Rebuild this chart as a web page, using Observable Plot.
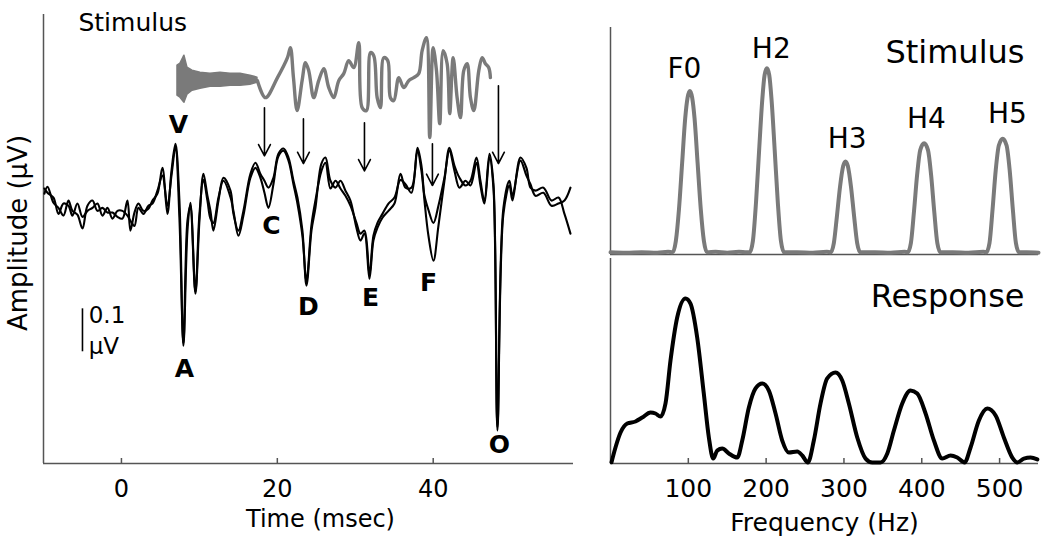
<!DOCTYPE html>
<html><head><meta charset="utf-8">
<script src="https://cdn.jsdelivr.net/npm/d3@7"></script>
<script src="https://cdn.jsdelivr.net/npm/@observablehq/plot@0.6"></script>
<style>
body{margin:0;background:#fff;}
#chart{position:relative;width:1050px;height:546px;overflow:hidden;background:#fff;}
#chart svg{position:absolute;overflow:visible;}
</style></head><body><div id="chart"></div>
<script>
// ---------- Left panel: time-domain waveforms ----------
const timeTicks = [0, 20, 40];
const respTime = [
 -9.88,-9.49,-8.72,-8.08,-7.44,-6.80,-6.29,-5.65,-5.00,-4.36,
 -3.72,-3.08,-2.44,-1.80,-1.15,-0.51,0.13,0.77,1.15,1.67,
 2.18,2.82,3.46,3.98,4.62,5.26,5.90,6.42,6.93,7.44,
 7.95,8.47,8.85,9.49,10.01,10.52,11.03,11.42,11.80,12.45,
 13.09,13.99,14.37,15.01,15.65,16.55,17.19,17.83,18.35,18.86,
 19.50,20.14,20.79,21.43,22.07,22.58,23.22,23.74,24.38,24.89,
 25.66,26.17,26.82,27.46,28.10,28.74,29.38,30.15,30.66,31.18,
 31.82,32.33,32.85,33.49,34.26,35.03,35.80,36.44,37.21,37.98,
 38.49,38.88,39.39,40.03,40.67,41.44,42.08,42.73,43.37,44.14,
 44.78,45.55,46.06,46.57,47.22,47.73,48.24,49.01,49.78,50.17,
 51.19,51.96,52.48,53.12,54.14,55.17,56.07,56.84,57.61];
const respA = [
 0.028,0.044,0.007,-0.005,-0.023,0.012,-0.012,-0.021,-0.053,0.000,
 0.012,-0.012,-0.005,-0.016,-0.016,-0.026,-0.030,0.012,-0.058,-0.016,
 0.005,-0.012,-0.007,0.012,0.028,0.088,-0.019,0.081,0.144,0.012,
 -0.326,-0.058,0.007,-0.205,-0.035,0.074,0.023,-0.012,-0.058,0.012,
 0.065,0.035,-0.019,-0.058,-0.012,0.074,0.100,0.074,0.058,0.042,
 0.065,0.121,0.133,0.112,0.058,0.019,-0.058,-0.186,-0.058,-0.005,
 0.098,0.112,0.058,0.042,0.058,0.035,0.012,-0.051,-0.081,-0.065,
 -0.170,-0.081,-0.051,-0.028,-0.012,0.005,0.074,0.042,0.042,0.135,
 0.093,0.012,-0.070,-0.128,-0.047,0.058,0.135,0.093,0.065,0.047,
 0.058,0.112,0.058,0.012,0.121,0.051,-0.523,-0.019,0.047,0.012,
 0.112,0.088,0.042,0.035,0.042,0.012,0.019,-0.019,-0.065];
const respB = [
 0.040,0.030,0.019,-0.019,0.005,0.000,-0.023,0.005,-0.026,-0.012,
 -0.005,0.005,-0.023,-0.005,-0.030,-0.012,-0.012,-0.023,-0.035,-0.047,
 -0.005,-0.019,0.000,0.005,0.035,0.070,0.000,0.070,0.135,-0.030,
 -0.320,-0.035,0.000,-0.200,-0.019,0.060,0.012,-0.030,-0.040,0.019,
 0.058,0.020,-0.012,-0.070,-0.023,0.065,0.088,0.065,0.030,-0.005,
 0.050,0.115,0.128,0.105,0.050,0.005,-0.070,-0.175,-0.045,0.012,
 0.081,0.100,0.040,0.058,0.040,0.023,0.000,-0.040,-0.065,-0.058,
 -0.160,-0.070,-0.040,-0.019,0.005,0.019,0.060,0.050,0.030,0.128,
 0.081,0.023,-0.010,-0.040,0.000,0.065,0.128,0.081,0.042,0.058,
 0.047,0.100,0.047,0.005,0.112,0.040,-0.515,-0.005,0.058,0.023,
 0.105,0.070,0.050,0.023,0.030,0.000,0.005,0.012,0.042];

// stimulus onset burst (envelope of the high-frequency part)
const burstTime = [7.19,7.57,8.08,8.47,9.11,10.14,11.42,12.70,13.99,15.27,16.55,17.45];
const burstTop  = [0.15,0.17,0.25,0.13,0.10,0.08,0.07,0.08,0.07,0.07,0.05,0.03];
const burstBot  = [-0.15,-0.17,-0.22,-0.14,-0.10,-0.08,-0.06,-0.06,-0.05,-0.05,-0.04,-0.02];
// stimulus waveform (arbitrary units)
const stimTime = [17.45,18.48,20.02,21.30,21.68,22.07,22.54,23.18,23.61,24.03,24.67,25.31,25.96,26.60,27.24,27.88,28.52,29.16,29.81,30.45,30.88,31.43,31.95,32.37,32.81,33.23,33.65,34.17,34.51,34.94,35.58,36.22,36.86,37.50,38.14,38.58,39.13,39.56,39.99,40.42,40.84,41.28,41.79,42.12,42.56,43.07,43.50,43.92,44.36,44.78,45.21,45.85,46.28,46.70,47.13,47.34];
const stimAmp  = [0.00,-0.17,0.03,0.23,0.33,0.03,-0.30,0.00,0.18,0.10,-0.17,0.00,0.12,-0.07,-0.17,0.00,0.07,0.20,0.13,0.38,-0.27,-0.30,0.28,0.25,-0.17,-0.27,0.23,0.20,-0.17,-0.20,0.03,-0.07,0.00,0.03,0.07,0.30,0.43,-0.57,0.33,0.10,-0.43,0.30,0.17,-0.33,0.23,-0.17,-0.37,0.10,0.17,-0.17,-0.30,0.10,0.23,0.17,0.13,0.03];
const stimOffset = 0.291, stimScale = 0.2327;

// arrows linking stimulus to response
const arrowTime   = [18.35, 23.35, 31.18, 39.90, 48.37];
const arrowTop    = [0.228, 0.202, 0.193, 0.144, 0.279];
const arrowBottom = [0.116, 0.098, 0.081, 0.047, 0.098];

// peak labels
const peakNames = ["V","A","C","D","E","F","O"];
const peakTime  = [7.31, 8.08, 19.25, 23.99, 31.95, 39.39, 48.50];
const peakAmp   = [0.188, -0.381, -0.047, -0.235, -0.214, -0.181, -0.558];

// scale bar
const scaleBarTime = -5.0;
const scaleBarRange = [-0.34, -0.24];

// ---------- Right panels: spectra ----------
const freqTicks = [100, 200, 300, 400, 500];
const stimFreq = [0,20,40,60,74,
 80,84,88,92,96,99,102,105,108,112,116,120,124,
 135,150,165,175,
 179,183,187,191,195,198,201,204,207,211,215,219,223,
 240,260,278,
 283,287,291,295,299,302,305,309,313,317,321,
 340,360,378,
 382,386,390,394,398,403,408,412,416,420,424,
 440,460,479,
 483,487,491,495,499,504,509,513,517,521,525,
 535,550];
const stimPower = [0.010,0.008,0.010,0.008,0.012,
 0.010,0.060,0.200,0.400,0.600,0.690,0.720,0.690,0.600,0.400,0.200,0.060,0.010,
 0.012,0.008,0.012,0.010,
 0.010,0.060,0.230,0.460,0.680,0.790,0.820,0.790,0.680,0.460,0.230,0.060,0.010,
 0.010,0.008,0.012,
 0.010,0.050,0.170,0.300,0.390,0.410,0.390,0.300,0.170,0.050,0.010,
 0.010,0.008,0.012,
 0.010,0.050,0.190,0.350,0.460,0.490,0.460,0.350,0.190,0.050,0.010,
 0.010,0.008,0.012,
 0.010,0.050,0.200,0.370,0.480,0.510,0.480,0.370,0.200,0.050,0.010,
 0.010,0.008];
const harmonicNames = ["F0","H2","H3","H4","H5"];
const harmonicFreq  = [95, 206.6, 304, 406, 510];
const harmonicLabelPower = [0.819, 0.907, 0.507, 0.595, 0.617];

const respFreq = [1.3,6.4,12.9,21.5,32.1,40.7,51.4,57.8,64.3,70.7,
 77.1,85.7,96.4,102.8,111.4,119.9,126.4,132.0,137.1,143.6,
 152.1,162.9,169.3,177.8,186.4,195.0,203.5,212.1,220.7,229.2,
 240.0,246.4,253.6,261.3,269.9,278.5,289.2,297.8,306.3,317.1,
 327.8,336.4,347.0,355.7,364.2,374.9,385.6,394.2,404.9,415.6,
 426.4,437.0,445.6,455.0,462.7,473.4,484.2,494.9,505.5,516.3,
 522.8,531.2,539.8,548.5];
const respPower = [0.006,0.078,0.151,0.195,0.205,0.224,0.249,0.244,0.229,0.293,
 0.502,0.712,0.805,0.780,0.615,0.341,0.127,0.024,0.063,0.073,
 0.049,0.029,0.112,0.273,0.366,0.390,0.356,0.244,0.112,0.054,
 0.059,0.039,0.005,0.112,0.293,0.415,0.444,0.405,0.293,0.127,
 0.024,0.005,0.005,0.049,0.161,0.293,0.356,0.341,0.244,0.112,
 0.024,0.039,0.029,0.005,0.078,0.210,0.268,0.234,0.127,0.029,
 0.005,0.024,0.029,0.020];

const panelTitles = ["Stimulus", "Response"];
const panelTitleFreq = 532;
const panelTitlePower = [0.89, 0.811];
const leftTitle = {text: "Stimulus", t: -5.52, amp: 0.426};

// ---------- build tables ----------
const response = respTime.map((t, i) => ({t, a: respA[i], b: respB[i]}));
const burst = burstTime.map((t, i) => ({t, hi: burstTop[i], lo: burstBot[i]}));
const stim = stimTime.map((t, i) => ({t, s: stimAmp[i]}));
const arrows = arrowTime.map((t, i) => ({t, top: arrowTop[i], bottom: arrowBottom[i]}));
const peaks = peakNames.map((n, i) => ({n, t: peakTime[i], v: peakAmp[i]}));
const stimSpec = stimFreq.map((f, i) => ({f, p: stimPower[i]}));
const respSpec = respFreq.map((f, i) => ({f, p: respPower[i]}));
const harmonics = harmonicNames.map((n, i) => ({n, f: harmonicFreq[i], p: harmonicLabelPower[i]}));

const gray = "#7a7a7a", axisColor = "#555", ink = "#000";
const FONT = "DejaVu Sans";
const baseStyle = {fontFamily: FONT, fontSize: "24px", color: "#000", background: "transparent", overflow: "visible"};

const left = Plot.plot({
  width: 600, height: 546,
  marginLeft: 43, marginRight: 27, marginTop: 14, marginBottom: 83,
  x: {domain: [-10, 58]},
  y: {domain: [-0.6, 0.445], axis: null},
  style: baseStyle,
  marks: [
    Plot.ruleX([-10], {stroke: axisColor, strokeWidth: 1.5}),
    Plot.ruleY([-0.6], {stroke: axisColor, strokeWidth: 1.5}),
    Plot.tickX(timeTicks, {x: d => d, stroke: axisColor, strokeWidth: 1.5, insetTop: 444}),
    Plot.axisX({ticks: timeTicks, tickSize: 0, tickPadding: 16, label: null, fontSize: 24, tickFormat: d => String(d)}),
    Plot.text(["Time (msec)"], {text: d => d, frameAnchor: "bottom", lineAnchor: "middle", textAnchor: "middle", dx: 12, dy: 56, fontSize: 24}),
    Plot.text(["Amplitude (µV)"], {text: d => d, frameAnchor: "left", textAnchor: "middle", lineAnchor: "middle", rotate: -90, dx: -25, dy: -6, fontSize: 26}),
    Plot.text([leftTitle], {x: "t", y: "amp", text: "text", textAnchor: "start", fontSize: 25}),
    Plot.areaY(burst, {x: "t", y1: d => stimOffset + d.lo * stimScale, y2: d => stimOffset + d.hi * stimScale, fill: gray, stroke: gray, strokeWidth: 1.5}),
    Plot.line(stim, {x: "t", y: d => stimOffset + d.s * stimScale, stroke: gray, strokeWidth: 3.4, strokeLinejoin: "round", curve: "catmull-rom"}),
    Plot.line(response, {x: "t", y: "b", stroke: ink, strokeWidth: 2.1, strokeLinejoin: "round", curve: "catmull-rom"}),
    Plot.line(response, {x: "t", y: "a", stroke: ink, strokeWidth: 2.1, strokeLinejoin: "round", curve: "catmull-rom"}),
    Plot.arrow(arrows, {x1: "t", x2: "t", y1: "top", y2: "bottom", stroke: ink, strokeWidth: 1.6, headLength: 12, headAngle: 55}),
    Plot.text(peaks, {x: "t", y: "v", text: "n", fontSize: 25, fontWeight: "bold"}),
    Plot.ruleX([scaleBarTime], {y1: scaleBarRange[0], y2: scaleBarRange[1], stroke: ink, strokeWidth: 1.6}),
    Plot.text(["0.1"], {text: d => d, x: scaleBarTime + 0.8, y: -0.256, textAnchor: "start", fontSize: 23}),
    Plot.text(["µV"], {text: d => d, x: scaleBarTime + 0.8, y: -0.328, textAnchor: "start", fontSize: 23})
  ]
});
left.style.left = "0px"; left.style.top = "0px";

const rightTop = Plot.plot({
  width: 450, height: 256,
  marginLeft: 10, marginRight: 12, marginTop: 27, marginBottom: 2,
  x: {domain: [0, 550], axis: null},
  y: {domain: [0, 1], axis: null},
  style: baseStyle,
  marks: [
    Plot.ruleX([0], {stroke: axisColor, strokeWidth: 1.5}),
    Plot.ruleY([0], {stroke: axisColor, strokeWidth: 1.5}),
    Plot.line(stimSpec, {x: "f", y: "p", stroke: gray, strokeWidth: 4, curve: "monotone-x", strokeLinejoin: "round"}),
    Plot.text(harmonics, {x: "f", y: "p", text: "n", fontSize: 28}),
    Plot.text([panelTitles[0]], {text: d => d, x: panelTitleFreq, y: panelTitlePower[0], textAnchor: "end", fontSize: 32})
  ]
});
rightTop.style.left = "600px"; rightTop.style.top = "0px";

const rightBottom = Plot.plot({
  width: 450, height: 290,
  marginLeft: 10, marginRight: 12, marginTop: 2, marginBottom: 83,
  x: {domain: [0, 550]},
  y: {domain: [0, 1], axis: null},
  style: baseStyle,
  marks: [
    Plot.ruleX([0], {stroke: axisColor, strokeWidth: 1.5}),
    Plot.ruleY([0], {stroke: axisColor, strokeWidth: 1.5}),
    Plot.tickX(freqTicks, {x: d => d, stroke: axisColor, strokeWidth: 1.5, insetTop: 200}),
    Plot.axisX({ticks: freqTicks, tickSize: 0, tickPadding: 16, label: null, fontSize: 25, tickFormat: d => String(d)}),
    Plot.text(["Frequency (Hz)"], {text: d => d, frameAnchor: "bottom", lineAnchor: "middle", textAnchor: "middle", dy: 59, fontSize: 25}),
    Plot.line(respSpec, {x: "f", y: "p", stroke: ink, strokeWidth: 4, curve: "monotone-x", strokeLinejoin: "round"}),
    Plot.text([panelTitles[1]], {text: d => d, x: panelTitleFreq, y: panelTitlePower[1], textAnchor: "end", fontSize: 32})
  ]
});
rightBottom.style.left = "600px"; rightBottom.style.top = "256px";

const chart = document.getElementById("chart");
chart.append(left, rightTop, rightBottom);
</script>
</body></html>
